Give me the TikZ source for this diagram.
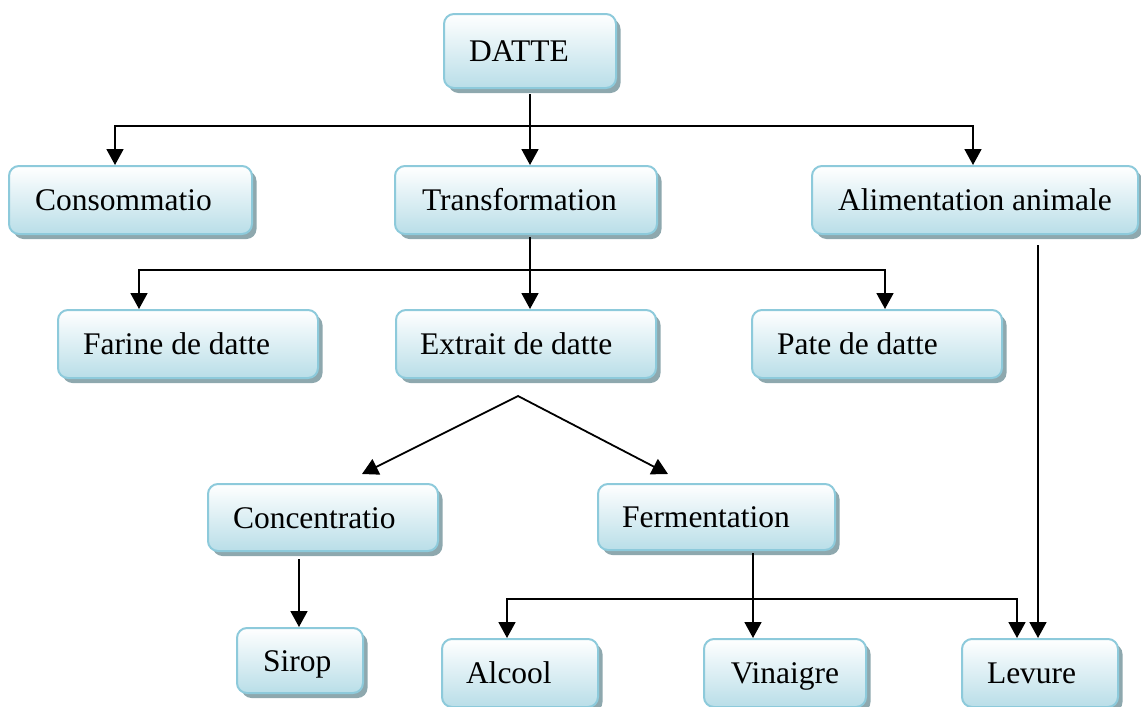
\documentclass[tikz,border=0pt]{standalone}
\usepackage{fontspec}
\setmainfont{Liberation Serif}
\usetikzlibrary{arrows.meta,shadows}

\definecolor{boxedge}{HTML}{8DCADB}
\definecolor{boxlow}{HTML}{B9DEE8}
\definecolor{boxshade}{HTML}{8EA8AE}

\tikzset{
  card/.style={rounded corners=10pt, draw=boxedge, line width=2pt,
    top color=white, bottom color=boxlow,
    minimum height=68pt, inner ysep=0pt,
    text height=21pt, text depth=0pt,
    font=\fontsize{31.5}{36}\selectfont,
    drop shadow={shadow xshift=4.5pt, shadow yshift=-5pt, fill=boxshade, opacity=1}},
  pad/.style 2 args={text width=#1, inner xsep=#2, align=flush left},
  link/.style={draw=black, line width=1.8pt},
  tip/.tip={Triangle[width=17pt,length=16pt]},
  arrow/.style={link, -tip},
}

\begin{document}
\begin{tikzpicture}[x=1pt,y=-1pt]
\useasboundingbox (0,0) rectangle (1141,707);

% boxes
\node[card, pad={122pt}{25pt}, minimum height=74pt] (datte) at (530,51) {DATTE};

\node[card, pad={191pt}{26pt}] (cons) at (130.5,200) {Consommatio};
\node[card, pad={208pt}{27pt}] (trans) at (526,200) {Transformation};
\node[card, minimum width=326pt, inner xsep=10pt] (alim) at (975,200) {Alimentation animale};

\node[card, pad={210pt}{25pt}] (farine) at (188,344) {Farine de datte};
\node[card, pad={212pt}{24pt}] (extrait) at (526,344) {Extrait de datte};
\node[card, pad={200pt}{25pt}] (pate) at (877,344) {Pate de datte};

\node[card, pad={180pt}{25pt}, minimum height=67pt] (conc) at (323,517.5) {Concentratio};
\node[card, pad={189pt}{24pt}, minimum height=66pt] (ferm) at (716.5,517) {Fermentation};

\node[card, pad={74pt}{26pt}, minimum height=65pt] (sirop) at (300,660.5) {Sirop};
\node[card, pad={108pt}{24pt}] (alcool) at (520,673) {Alcool};
\node[card, minimum width=162pt, inner xsep=10pt] (vinaigre) at (785,673) {Vinaigre};
\node[card, pad={106pt}{25pt}] (levure) at (1040,673) {Levure};

% DATTE to the first row
\coordinate (j1) at (530,126);
\draw[link] ([yshift=-5pt]datte.south) -- (j1);
\draw[arrow] (j1) -| ([xshift=-15.5pt]cons.north);
\draw[arrow] (j1) -- (j1 |- trans.north);
\draw[arrow] (j1) -| ([xshift=-2pt]alim.north);

% Transformation to its products
\coordinate (j2) at (530,270);
\draw[link] ([xshift=4pt,yshift=-2pt]trans.south) -- (j2);
\draw[arrow] (j2) -| ([xshift=-49pt]farine.north);
\draw[arrow] (j2) -- (j2 |- extrait.north);
\draw[arrow] (j2) -| ([xshift=8pt]pate.north);

% Alimentation animale down to Levure
\coordinate (a1) at ([xshift=63pt,yshift=-10pt]alim.south);
\draw[arrow] (a1) -- (a1 |- levure.north);

% Extrait de datte splits in two
\coordinate (apex) at ([xshift=-8pt,yshift=-17pt]extrait.south);
\coordinate (lt) at ([xshift=39pt,yshift=9pt]conc.north);
\coordinate (rt) at ([xshift=-48.5pt,yshift=9pt]ferm.north);
\draw[link, tip-tip] (lt) -- (apex) -- (rt);

% Concentratio to Sirop
\coordinate (c1) at ([xshift=-24pt,yshift=-7pt]conc.south);
\draw[arrow] (c1) -- (c1 |- sirop.north);

% Fermentation to its products
\coordinate (j3) at (753,599);
\draw[link] ([xshift=36.5pt,yshift=-2pt]ferm.south) -- (j3);
\draw[arrow] (j3) -| ([xshift=-13pt]alcool.north);
\draw[arrow] (j3) -- (j3 |- vinaigre.north);
\draw[arrow] (j3) -| ([xshift=-23pt]levure.north);
\end{tikzpicture}
\end{document}
